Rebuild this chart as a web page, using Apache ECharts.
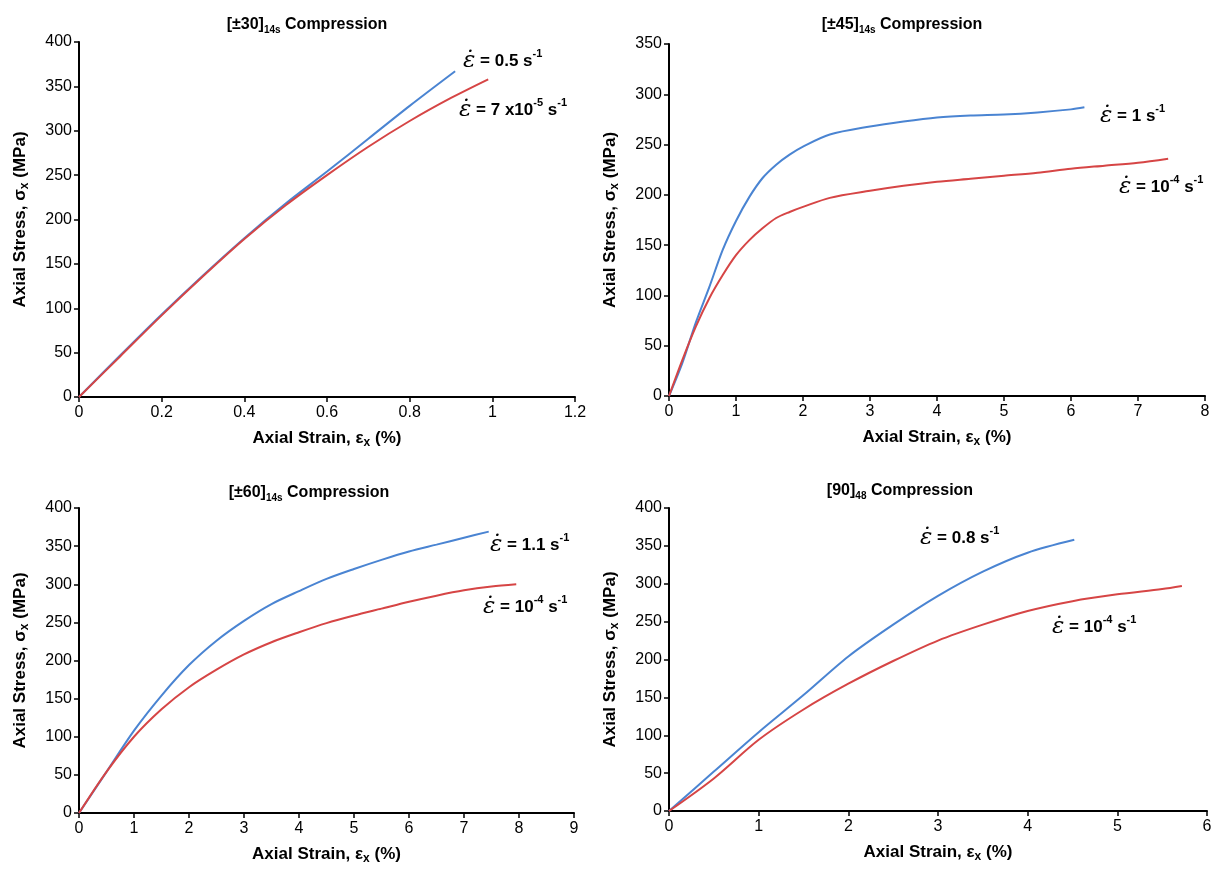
<!DOCTYPE html>
<html>
<head>
<meta charset="utf-8">
<script src="https://cdn.jsdelivr.net/npm/echarts@6/dist/echarts.min.js"></script>
<style>html,body{margin:0;padding:0;background:#fff}#c{width:1226px;height:870px}</style>
</head>
<body>
<div id="c"></div>
<script>
// ---- Data ----
const p30FastStrain = [0, 0.1, 0.2, 0.3, 0.4, 0.5, 0.6, 0.7, 0.8, 0.91];
const p30FastStress = [0, 47, 93, 137, 179, 218, 254, 291, 328, 367];
const p30SlowStrain = [0, 0.1, 0.2, 0.3, 0.4, 0.5, 0.6, 0.7, 0.8, 0.9, 0.99];
const p30SlowStress = [0, 46, 92, 136, 178, 216, 250, 282, 311, 337, 358];

const p45FastStrain = [0, 0.2, 0.4, 0.6, 0.8, 1.0, 1.2, 1.4, 1.6, 1.8, 2, 2.4, 3, 3.5, 4, 4.5, 5, 5.5, 6, 6.2];
const p45FastStress = [0, 33, 73, 108, 145, 174, 198, 217, 230, 240, 248, 260, 268, 273, 277, 279, 280, 282, 285, 287];
const p45SlowStrain = [0, 0.2, 0.4, 0.6, 0.8, 1, 1.2, 1.4, 1.6, 1.8, 2, 2.4, 3, 3.5, 4, 4.5, 5, 5.5, 6, 6.5, 7, 7.45];
const p45SlowStress = [0, 36, 69, 97, 120, 140, 155, 167, 177, 183, 188, 197, 204, 209, 213, 216, 219, 222, 226, 229, 232, 236];

const p60FastStrain = [0, 0.5, 1, 1.5, 2, 2.5, 3, 3.5, 4, 4.5, 5, 5.5, 6, 6.5, 7, 7.45];
const p60FastStress = [0, 54, 108, 154, 194, 226, 252, 274, 291, 307, 320, 332, 343, 352, 361, 369];
const p60SlowStrain = [0, 0.5, 1, 1.5, 2, 2.5, 3, 3.5, 4, 4.5, 5, 5.5, 6, 6.5, 7, 7.5, 7.95];
const p60SlowStress = [0, 54, 100, 136, 165, 188, 208, 224, 237, 249, 259, 268, 277, 285, 292, 297, 300];

const p90FastStrain = [0, 0.5, 1, 1.5, 2, 2.5, 3, 3.5, 4, 4.52];
const p90FastStress = [0, 52, 104, 153, 204, 246, 284, 316, 341, 358];
const p90SlowStrain = [0, 0.5, 1, 1.5, 2, 2.5, 3, 3.5, 4, 4.5, 5, 5.5, 5.72];
const p90SlowStress = [0, 43, 94, 134, 168, 198, 225, 246, 264, 277, 286, 293, 297];

const panelTitles = ['[±30]{sub|14s} Compression', '[±45]{sub|14s} Compression', '[±60]{sub|14s} Compression', '[90]{sub|48} Compression'];
const xMax = [1.2, 8, 9, 6];
const xInterval = [0.2, 1, 1, 1];
const yMax = [400, 350, 400, 400];
const yInterval = [50, 50, 50, 50];
const annotations = [
  '{e|ε̇}{b| = 0.5 s}{s|-1}', '{e|ε̇}{b| = 7 x10}{s|-5}{b| s}{s|-1}',
  '{e|ε̇}{b| = 1 s}{s|-1}', '{e|ε̇}{b| = 10}{s|-4}{b| s}{s|-1}',
  '{e|ε̇}{b| = 1.1 s}{s|-1}', '{e|ε̇}{b| = 10}{s|-4}{b| s}{s|-1}',
  '{e|ε̇}{b| = 0.8 s}{s|-1}', '{e|ε̇}{b| = 10}{s|-4}{b| s}{s|-1}'
];

// ---- Layout / style ----
const BLUE = '#4a84d2', RED = '#d64545';
const grids = [
  {left: 79, top: 42, width: 496, height: 355},
  {left: 669, top: 44, width: 536, height: 352},
  {left: 79, top: 508, width: 495, height: 305},
  {left: 669, top: 508, width: 538, height: 303}
];
const titlePos = [[302, 9], [897, 9], [304, 477], [895, 475]];
const annPos = [[463, 61], [459, 110], [1100, 116], [1119, 187], [490, 545], [483, 607], [920, 538], [1052, 627]];

const FONT = 'Liberation Sans';
const zip = (a, b) => a.map((v, i) => [v, b[i]]);
const subRich = {sub: {fontFamily: FONT, fontWeight: 'bold', fontSize: 10, color: '#000', verticalAlign: 'bottom', lineHeight: 21}};
const nameRich = {sub: {fontFamily: FONT, fontWeight: 'bold', fontSize: 12, color: '#000', verticalAlign: 'bottom', lineHeight: 22}};

const option = {
  backgroundColor: '#fff',
  animation: false,
  title: panelTitles.map((t, i) => ({
    text: t, left: titlePos[i][0], top: titlePos[i][1], textAlign: 'center',
    textStyle: {fontFamily: FONT, fontWeight: 'bold', fontSize: 16, color: '#000', lineHeight: 21, rich: subRich}
  })),
  grid: grids,
  xAxis: grids.map((g, i) => ({
    type: 'value', gridIndex: i, min: 0, max: xMax[i], interval: xInterval[i],
    name: 'Axial Strain, ε{sub|x} (%)', nameLocation: 'middle', nameGap: 30,
    nameTextStyle: {fontFamily: FONT, fontWeight: 'bold', fontSize: 17, color: '#000', lineHeight: 22, rich: nameRich},
    axisLine: {lineStyle: {color: '#000', width: 2}},
    axisTick: {show: true, length: 5, lineStyle: {color: '#000', width: 1.5}},
    axisLabel: {color: '#000', fontFamily: FONT, fontSize: 16, margin: 8},
    splitLine: {show: false}
  })),
  yAxis: grids.map((g, i) => ({
    type: 'value', gridIndex: i, min: 0, max: yMax[i], interval: yInterval[i],
    name: 'Axial Stress, σ{sub|x} (MPa)', nameLocation: 'middle', nameGap: 48, nameRotate: 90,
    nameTextStyle: {fontFamily: FONT, fontWeight: 'bold', fontSize: 17, color: '#000', lineHeight: 22, rich: nameRich},
    axisLine: {show: true, lineStyle: {color: '#000', width: 2}},
    axisTick: {show: true, length: 5, lineStyle: {color: '#000', width: 1.5}},
    axisLabel: {color: '#000', fontFamily: FONT, fontSize: 16, margin: 7},
    splitLine: {show: false}
  })),
  series: [
    [p30FastStrain, p30FastStress, BLUE, 0], [p30SlowStrain, p30SlowStress, RED, 0],
    [p45FastStrain, p45FastStress, BLUE, 1], [p45SlowStrain, p45SlowStress, RED, 1],
    [p60FastStrain, p60FastStress, BLUE, 2], [p60SlowStrain, p60SlowStress, RED, 2],
    [p90FastStrain, p90FastStress, BLUE, 3], [p90SlowStrain, p90SlowStress, RED, 3]
  ].map(([xs, ys, col, gi]) => ({
    type: 'line', xAxisIndex: gi, yAxisIndex: gi, data: zip(xs, ys),
    showSymbol: false, smooth: 0.3, lineStyle: {color: col, width: 2}, itemStyle: {color: col}
  })),
  graphic: annotations.map((t, i) => ({
    type: 'text', x: annPos[i][0], y: annPos[i][1],
    style: {
      text: t, align: 'left', verticalAlign: 'middle',
      rich: {
        e: {fontFamily: 'DejaVu Serif', fontStyle: 'italic', fontSize: 23, color: '#000', lineHeight: 26},
        b: {fontFamily: FONT, fontWeight: 'bold', fontSize: 17, color: '#000', lineHeight: 26},
        s: {fontFamily: FONT, fontWeight: 'bold', fontSize: 11, color: '#000', lineHeight: 18, verticalAlign: 'top'}
      }
    }
  }))
};
echarts.init(document.getElementById('c'), null, {renderer: 'canvas'}).setOption(option);
</script>
</body>
</html>
